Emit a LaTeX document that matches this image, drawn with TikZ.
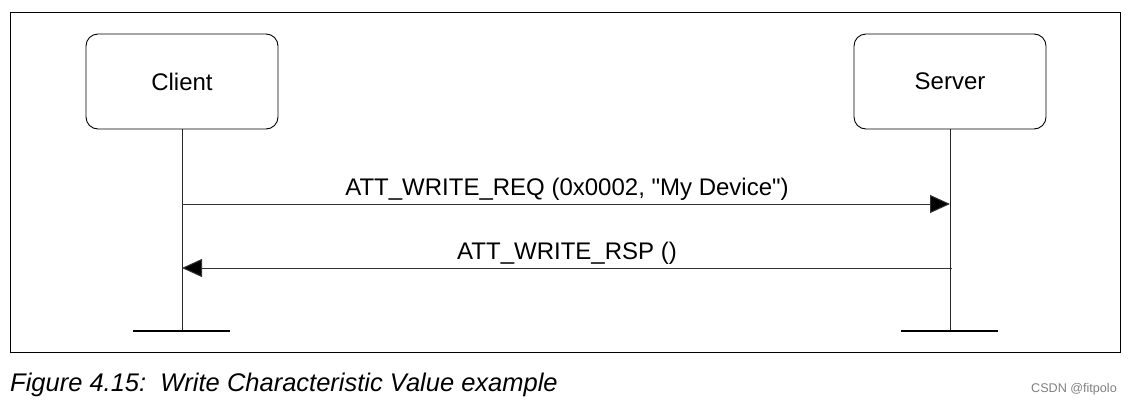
\documentclass[tikz,border=0pt]{standalone}
\usepackage{fontspec}
\setmainfont{Liberation Sans}[Ligatures=TeXOff]
\usetikzlibrary{arrows.meta}
\begin{document}
\begin{tikzpicture}[x=1pt,y=-1pt,
  actor/.style={draw, line width=0.9pt, rounded corners=12pt, minimum width=192pt, minimum height=95pt, font=\fontsize{24}{28}\selectfont, inner sep=0pt},
  life/.style={line width=1pt, draw=black!85},
  msg/.style={line width=1pt, draw=black!80, -{Triangle[length=20pt,width=18pt,fill=black]}},
  lbl/.style={font=\fontsize{24}{28}\selectfont, anchor=base},
  bar/.style={line width=2.2pt}
]
\useasboundingbox (0,0) rectangle (1131,407);
\draw[line width=0.9pt] (10.5,12.5) rectangle (1120,352);
\node[actor] (client) at (182,81.5) {Client};
\node[actor] (server) at (950,81.5) {Server};
\coordinate (cbot) at (182,331);
\coordinate (sbot) at (950,331);
\draw[life] (client.south) -- (cbot);
\draw[life] (server.south) -- (sbot);
\draw[bar] (133,331) -- (230,331);
\draw[bar] (901,331) -- (998,331);
\coordinate (c1) at (182,204);
\coordinate (s1) at (950,204);
\coordinate (c2) at (182,268);
\coordinate (s2) at (952,268);
\draw[msg] (c1) -- (s1);
\draw[msg] (s2) -- (c2);
\node[lbl] (m1) at (567,195) {ATT\_WRITE\_REQ (0x0002, "My Device")};
\node[lbl] (m2) at (567,259) {ATT\_WRITE\_RSP ()};
\node[font=\fontsize{25.5}{30}\selectfont\itshape, anchor=base west, inner sep=0pt] (cap) at (10,391) {Figure 4.15:\ \ Write Characteristic Value example};
\node[font=\fontsize{12.6}{14}\selectfont, text=black!50, anchor=base east, inner sep=0pt] (wm) at (1117,392) {CSDN @fitpolo};
\end{tikzpicture}
\end{document}
